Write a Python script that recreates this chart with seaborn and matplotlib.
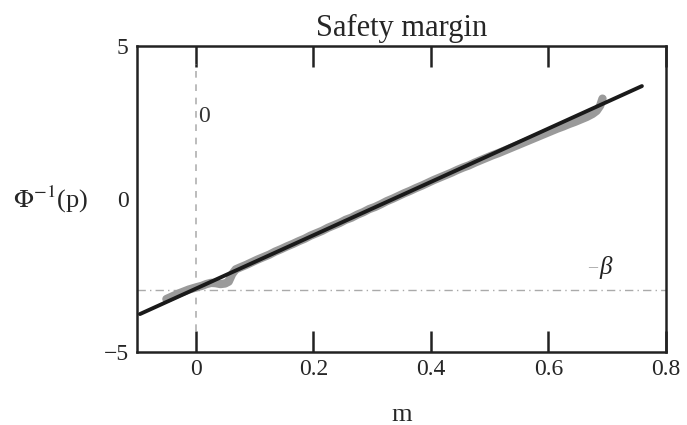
import matplotlib
matplotlib.use("Agg")
import matplotlib.pyplot as plt
import seaborn as sns
import pandas as pd

# Empirical points (safety margin m vs probit of p)
m_data = [-0.050, -0.042, -0.035, -0.028, -0.020, -0.012, -0.005, 0.002, 0.010, 0.018,
          0.026, 0.034, 0.042, 0.050, 0.056, 0.062, 0.068, 0.075, 0.085, 0.095,
          0.105, 0.115, 0.125, 0.135, 0.145, 0.155, 0.165, 0.175, 0.185, 0.195,
          0.205, 0.215, 0.225, 0.235, 0.245, 0.255, 0.265, 0.275, 0.285, 0.295,
          0.305, 0.315, 0.325, 0.335, 0.345, 0.355, 0.365, 0.375, 0.385, 0.395,
          0.405, 0.415, 0.425, 0.435, 0.445, 0.455, 0.465, 0.475, 0.485, 0.495,
          0.505, 0.515, 0.525, 0.535, 0.545, 0.555, 0.565, 0.575, 0.585, 0.595,
          0.605, 0.615, 0.625, 0.635, 0.645, 0.655, 0.665, 0.675, 0.682, 0.688, 0.692]
phi_data = [-3.27, -3.20, -3.14, -3.08, -3.02, -2.96, -2.92, -2.88, -2.84, -2.78,
            -2.74, -2.75, -2.78, -2.76, -2.70, -2.45, -2.30, -2.24, -2.16, -2.07,
            -1.98, -1.90, -1.82, -1.72, -1.64, -1.55, -1.47, -1.38, -1.30, -1.20,
            -1.12, -1.04, -0.94, -0.86, -0.78, -0.68, -0.61, -0.51, -0.43, -0.33,
            -0.26, -0.17, -0.07, 0.01, 0.10, 0.19, 0.27, 0.36, 0.44, 0.53,
            0.62, 0.70, 0.78, 0.86, 0.95, 1.03, 1.10, 1.19, 1.27, 1.35,
            1.43, 1.50, 1.58, 1.66, 1.74, 1.82, 1.90, 1.98, 2.06, 2.14,
            2.22, 2.30, 2.37, 2.45, 2.52, 2.60, 2.68, 2.78, 2.88, 3.05, 3.28]

# Fitted straight line endpoints
m_fit = [-0.095, 0.759]
phi_fit = [-3.76, 3.69]

beta = -2.97
x_ticks = [0, 0.2, 0.4, 0.6, 0.8]
x_ticklabels = ["0", "0.2", "0.4", "0.6", "0.8"]
y_ticks = [-5, 0, 5]
y_ticklabels = ["\u22125", "0", "5"]

sns.set_style("white")
plt.rcParams["font.family"] = ["Liberation Serif", "DejaVu Serif"]
plt.rcParams["mathtext.fontset"] = "stix"

fig = plt.figure(figsize=(6.87, 4.25), dpi=100)
ax = fig.add_axes([137 / 687, 1 - 352 / 425, (666 - 137) / 687, (352 - 46) / 425])

df = pd.DataFrame({"m": m_data, "phi": phi_data})
fit = pd.DataFrame({"m": m_fit, "phi": phi_fit})

# reference lines
ax.axhline(beta, color="#aaaaaa", lw=1.0, ls=(0, (6, 3, 1, 3)), zorder=1)
ax.axvline(0, ymin=(-4.3 + 5) / 10, ymax=(4.4 + 5) / 10, color="#b0b0b0", lw=1.2,
           ls=(0, (4, 4)), zorder=1)

sns.lineplot(data=df, x="m", y="phi", ax=ax, color="#9a9a9a", lw=6.0, sort=False,
             estimator=None, zorder=2)
sns.lineplot(data=fit, x="m", y="phi", ax=ax, color="#1a1a1a", lw=2.8, sort=False,
             estimator=None, zorder=3)

ax.set_xlim(-0.1, 0.8)
ax.set_ylim(-5, 5)
ax.set_xticks(x_ticks)
ax.set_xticklabels(x_ticklabels, fontsize=17)
ax.set_yticks(y_ticks)
ax.set_yticklabels(y_ticklabels, fontsize=17)
ax.tick_params(axis="x", direction="in", length=15, width=1.8, color="#222222",
               top=True, bottom=True, labeltop=False, pad=5)
ax.tick_params(axis="y", length=0, pad=6)

for s in ax.spines.values():
    s.set_color("#222222")
    s.set_linewidth(1.8)

ax.set_title("Safety margin", fontsize=22, pad=7)
ax.set_xlabel("m", fontsize=19, labelpad=17)
ax.set_ylabel(r"$\Phi^{-1}$(p)", fontsize=19, rotation=0, labelpad=38, va="center")

ax.text(0.004, 2.7, "0", fontsize=17, color="#333333", ha="left", va="center")
ax.text(0.683, -2.25, "\u2013", fontsize=13, color="#999999", ha="right", va="center")
ax.text(0.686, -2.25, "\u03b2", fontsize=18, style="italic", color="#222222",
        ha="left", va="center")

fig.savefig("out.png", dpi=100)
